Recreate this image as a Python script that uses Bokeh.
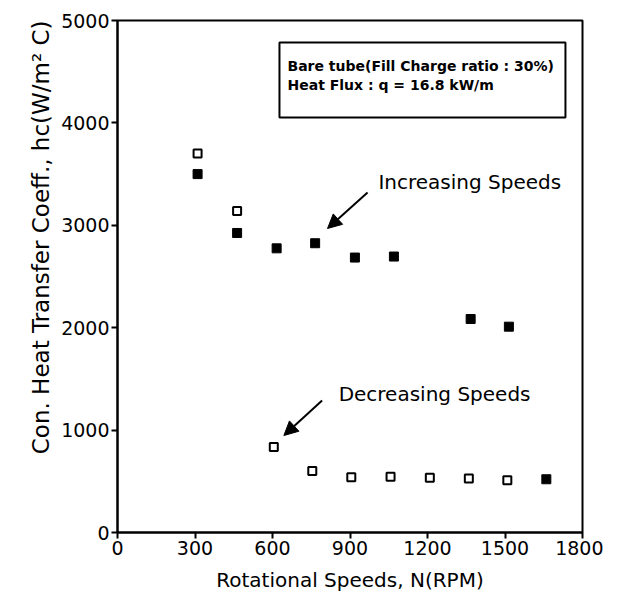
from bokeh.plotting import figure
from bokeh.models import Arrow, NormalHead, BoxAnnotation, Label, FixedTicker, Title
from bokeh.embed import file_html
from bokeh.resources import INLINE

# Data
inc_speed = [310, 463, 616, 765, 919, 1070, 1367, 1515, 1660]
inc_hc = [3500, 2925, 2775, 2825, 2685, 2695, 2085, 2010, 520]
dec_speed = [310, 463, 605, 754, 905, 1057, 1209, 1360, 1509]
dec_hc = [3700, 3140, 835, 600, 540, 545, 535, 528, 510]

x_ticks = [0, 300, 600, 900, 1200, 1500, 1800]
y_ticks = [0, 1000, 2000, 3000, 4000, 5000]

FONT = "DejaVu Sans"

p = figure(width=603, height=600, x_range=(0, 1800), y_range=(0, 5000),
           output_backend="svg", toolbar_location=None,
           min_border_left=117, min_border_right=21, min_border_top=20, min_border_bottom=68)
p.grid.visible = False
p.background_fill_color = "white"
p.border_fill_color = "white"
p.outline_line_color = "black"
p.outline_line_width = 2

for ax in (p.xaxis[0], p.yaxis[0]):
    ax.axis_line_width = 2
    ax.axis_line_color = "black"
    ax.major_tick_line_width = 2
    ax.major_tick_in = 0
    ax.major_tick_out = 6
    ax.minor_tick_line_color = None
    ax.major_label_text_font = FONT
    ax.major_label_text_font_size = "19px"
    ax.major_label_text_color = "black"
    ax.axis_label_text_font = FONT
    ax.axis_label_text_font_style = "normal"
    ax.axis_label_text_color = "black"

p.xaxis.ticker = FixedTicker(ticks=x_ticks)
p.yaxis.ticker = FixedTicker(ticks=y_ticks)
p.xaxis.axis_label = "Rotational Speeds, N(RPM)"
p.xaxis.axis_label_text_font_size = "20px"
p.xaxis.major_label_standoff = 2
p.yaxis.major_label_standoff = 2
p.xaxis.axis_label_standoff = 10

# y-axis title as a side title so it can be aligned to the top of the frame
ytitle = Title(text="Con. Heat Transfer Coeff., hc(W/m\u00b2 C)", align="right",
               text_font=FONT, text_font_size="23px", text_font_style="normal",
               text_color="black", standoff=10)
p.add_layout(ytitle, "left")

p.scatter(inc_speed, inc_hc, marker="square", size=9, fill_color="black", line_color="black")
p.scatter(dec_speed, dec_hc, marker="square", size=8, fill_color="white", line_color="black", line_width=2)

# Condition box
box = BoxAnnotation(left=627, right=1734, top=4785, bottom=4053,
                    fill_color=None, fill_alpha=0, line_color="black", line_alpha=1, line_width=2)
p.add_layout(box)
p.add_layout(Label(x=658, y=4551, text="Bare tube(Fill Charge ratio : 30%)",
                   text_font=FONT, text_font_size="14px", text_font_style="bold",
                   text_baseline="middle", text_color="black"))
p.add_layout(Label(x=658, y=4375, text="Heat Flux : q = 16.8 kW/m",
                   text_font=FONT, text_font_size="14px", text_font_style="bold",
                   text_baseline="middle", text_color="black"))

# Annotations
p.add_layout(Label(x=1010, y=3418, text="Increasing Speeds", text_font=FONT,
                   text_font_size="20px", text_baseline="middle", text_color="black"))
p.add_layout(Arrow(end=NormalHead(size=14, fill_color="black", line_color="black"),
                   x_start=968, y_start=3320, x_end=813, y_end=2969,
                   line_color="black", line_width=2))
p.add_layout(Label(x=856, y=1348, text="Decreasing Speeds", text_font=FONT,
                   text_font_size="20px", text_baseline="middle", text_color="black"))
p.add_layout(Arrow(end=NormalHead(size=14, fill_color="black", line_color="black"),
                   x_start=792, y_start=1289, x_end=644, y_end=947,
                   line_color="black", line_width=2))

open("out.html", "w").write(file_html(p, INLINE))
